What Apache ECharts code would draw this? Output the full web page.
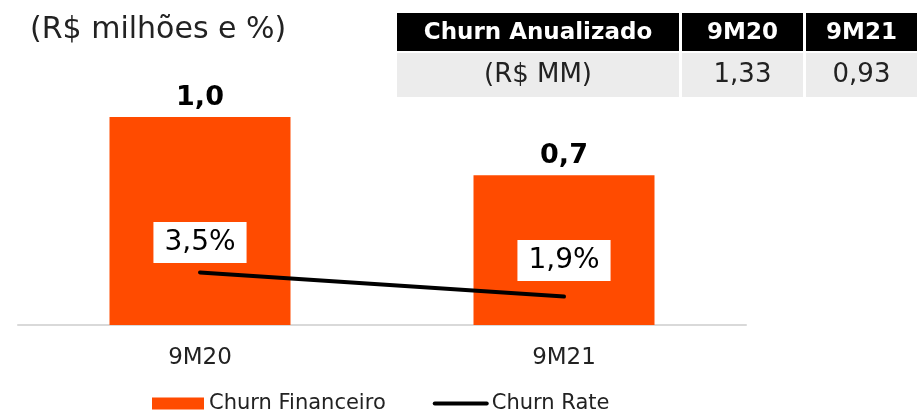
<!DOCTYPE html>
<html>
<head>
<meta charset="utf-8">
<script src="https://cdn.jsdelivr.net/npm/echarts@6/dist/echarts.min.js"></script>
<style>
  html, body { margin: 0; padding: 0; background: #fff; }
  #chart { width: 917px; height: 412px; }
</style>
</head>
<body>
<div id="chart"></div>
<script>
// dados do gráfico
const categories = ['9M20', '9M21'];
const churnFinanceiro = [1.0, 0.72];
const churnRate = [3.5, 1.9];

// tabela "Churn Anualizado"
const tableHeader = ['Churn Anualizado', '9M20', '9M21'];
const tableRow = ['(R$ MM)', '1,33', '0,93'];

const FONT = 'DejaVu Sans, Verdana, sans-serif';
const ORANGE = '#FF4B00';

const fmt = (v, d) => v.toFixed(d).replace('.', ',');

// layout da tabela
const colX = [397, 682, 806, 917];
const headTop = 13, headH = 38, rowTop = 53, rowH = 44;

const buildTable = () => {
  const els = [];
  for (let i = 0; i < 3; i++) {
    const x = colX[i];
    const w = (i < 2 ? colX[i + 1] - 3 : colX[3]) - x;
    els.push({
      type: 'rect', shape: { x, y: headTop, width: w, height: headH },
      style: { fill: '#000' }
    });
    els.push({
      type: 'rect', shape: { x, y: rowTop, width: w, height: rowH },
      style: { fill: '#ececec' }
    });
    els.push({
      type: 'text', x: x + w / 2, y: headTop + headH / 2 + 1,
      style: {
        text: tableHeader[i], fill: '#fff', font: 'bold 23px ' + FONT,
        align: 'center', verticalAlign: 'middle'
      }
    });
    els.push({
      type: 'text', x: x + w / 2, y: rowTop + rowH / 2,
      style: {
        text: tableRow[i], fill: '#222', font: '26px ' + FONT,
        align: 'center', verticalAlign: 'middle'
      }
    });
  }
  return els;
};

const chart = echarts.init(document.getElementById('chart'));

chart.setOption({
  backgroundColor: '#fff',
  animation: false,
  textStyle: { fontFamily: FONT },
  title: {
    text: '(R$ milhões e %)',
    left: 25,
    top: 10,
    textStyle: { fontSize: 30, fontWeight: 'normal', color: '#222', fontFamily: FONT }
  },
  legend: {
    left: 147,
    top: 388,
    itemWidth: 52,
    itemHeight: 12,
    itemGap: 47,
    textStyle: { fontSize: 21, color: '#222', fontFamily: FONT },
    data: [
      { name: 'Churn Financeiro', icon: 'rect' },
      {
        name: 'Churn Rate',
        itemStyle: { color: 'rgba(0,0,0,0)', borderWidth: 0 },
        lineStyle: { width: 4, color: '#000', cap: 'round' }
      }
    ]
  },
  grid: { left: 18, right: 171, top: 100, bottom: 87 },
  xAxis: {
    type: 'category',
    data: categories,
    axisLine: { lineStyle: { color: '#d9d9d9', width: 2 } },
    axisTick: { show: false },
    axisLabel: { fontSize: 23, color: '#222', margin: 22, fontFamily: FONT }
  },
  yAxis: [
    { type: 'value', min: 0, max: 225 / 208, show: false },
    { type: 'value', min: 0, max: 15, show: false }
  ],
  series: [
    {
      name: 'Churn Financeiro',
      type: 'bar',
      data: churnFinanceiro,
      barWidth: 181,
      itemStyle: { color: ORANGE },
      label: {
        show: true,
        position: 'top',
        distance: 6,
        fontSize: 27,
        fontWeight: 'bold',
        color: '#000',
        fontFamily: FONT,
        formatter: (p) => fmt(p.value, 1)
      }
    },
    {
      name: 'Churn Rate',
      type: 'line',
      yAxisIndex: 1,
      data: churnRate.map((v, i) => ({
        value: v,
        label: { distance: i === 0 ? 9 : 15 }
      })),
      symbol: 'circle',
      symbolSize: 1,
      z: 5,
      lineStyle: { color: '#000', width: 4, cap: 'round' },
      itemStyle: { color: '#000' },
      label: {
        show: true,
        position: 'top',
        fontSize: 28,
        color: '#000',
        fontFamily: FONT,
        backgroundColor: '#fff',
        padding: [7, 11, 6, 11],
        formatter: (p) => fmt(p.value, 1) + '%'
      }
    }
  ],
  graphic: buildTable()
});
</script>
</body>
</html>
